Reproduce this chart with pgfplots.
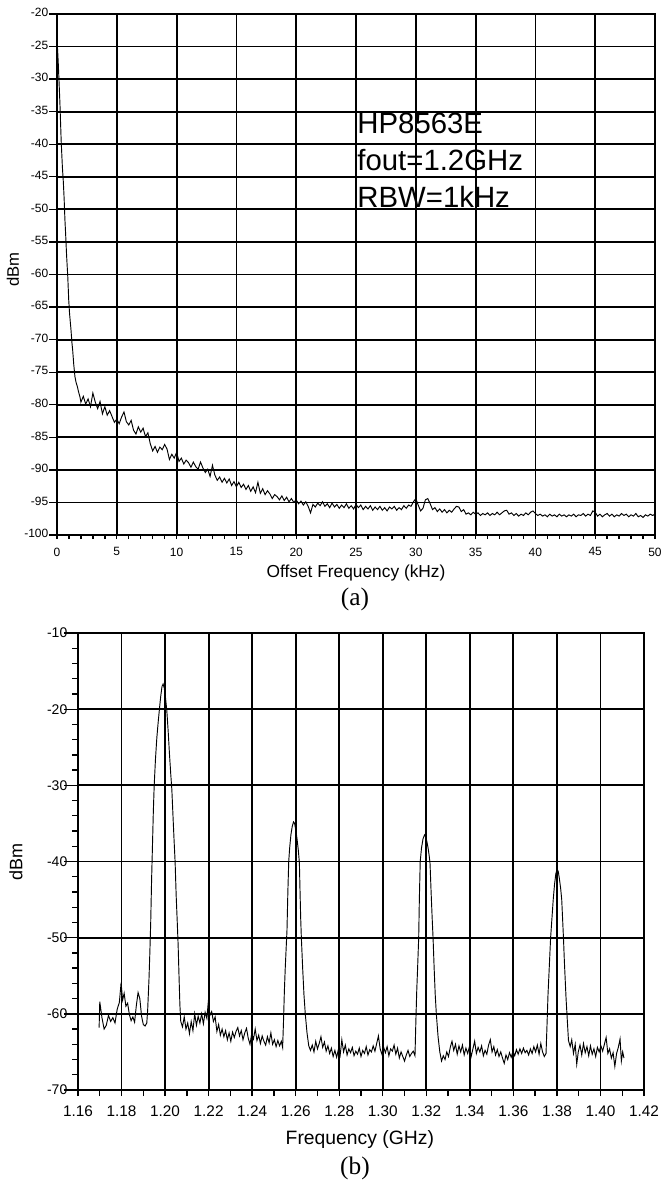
\documentclass[border=0pt]{standalone}
\usepackage{fontspec}
\setmainfont{Liberation Sans}
\newfontfamily\seriffont{Liberation Serif}
\usepackage{pgfplots}
\pgfplotsset{compat=1.18}

% 1 px of the reference = 0.75pt
\pgfplotsset{
  specstyle/.style={
    scale only axis,
    anchor=south west,
    grid=major,
    major grid style={black, line width=1.35pt},
    axis line style={black, line width=1.35pt},
    tick style={black, line width=1pt},
    tick align=outside,
    tick pos=left,
  }
}

\begin{document}
\begin{tikzpicture}
\useasboundingbox (0,0) rectangle (495.75pt,-888pt);

% (a) close-in spectrum
\begin{axis}[
  specstyle,
  at={(42.75pt,-401.25pt)},
  width=448.5pt, height=390.75pt,
  xmin=0, xmax=50, ymin=-100, ymax=-20,
  xtick={0,5,...,50},
  xticklabels={0,5,10,15,20,25,30,35,40,45,50},
  ytick={-100,-95,...,-20},
  yticklabels={-100,-95,-90,-85,-80,-75,-70,-65,-60,-55,-50,-45,-40,-35,-30,-25,-20},
  minor x tick num=4,
  major tick length=3pt, minor tick length=3pt,
  ytick style={/pgfplots/major tick length=6pt},
  ticklabel style={font=\fontsize{9}{10}\selectfont},
  xticklabel style={yshift=-3pt},
  yticklabel style={yshift=1pt},
  xlabel={Offset Frequency (kHz)},
  xlabel style={at={(axis description cs:0.5,-0.073)}, anchor=center, font=\fontsize{13}{15}\selectfont},
  ylabel={dBm},
  ylabel style={at={(axis description cs:-0.0736,0.509)}, anchor=center, font=\fontsize{12.5}{15}\selectfont},
]
\addplot[black, line width=0.7pt] coordinates {
(0.00,-24.0) (0.05,-25.5) (0.10,-27.3) (0.15,-29.5) (0.20,-31.7) (0.25,-34.0) (0.30,-36.8)
(0.35,-39.5) (0.40,-41.5) (0.45,-43.5) (0.53,-45.8) (0.60,-48.5) (0.66,-51.5) (0.72,-53.7)
(0.80,-57.0) (0.90,-60.3) (0.98,-63.9) (1.05,-66.0) (1.17,-68.5) (1.25,-70.5) (1.31,-71.6)
(1.40,-73.8) (1.50,-75.7) (1.60,-76.6) (1.70,-77.2) (1.80,-78.0) (1.92,-78.8)
(2.0,-79.6) (2.2,-78.7) (2.4,-79.9) (2.6,-79.1) (2.8,-80.3) (3.0,-78.2) (3.2,-79.6) (3.4,-80.6)
(3.6,-79.5) (3.8,-81.4) (4.0,-80.3) (4.2,-81.6) (4.4,-80.9) (4.6,-81.8) (4.8,-82.7) (5.0,-82.2)
(5.2,-82.9) (5.4,-81.9) (5.6,-81.1) (5.8,-82.6) (6.0,-83.1) (6.2,-82.4) (6.4,-83.9) (6.6,-84.5)
(6.8,-83.4) (7.0,-84.2) (7.2,-83.6) (7.4,-84.9) (7.6,-84.3) (7.8,-86.0) (8.0,-87.1) (8.2,-86.4)
(8.4,-87.3) (8.6,-86.5) (8.8,-86.9) (9.0,-86.1) (9.2,-86.8) (9.4,-88.4) (9.6,-87.6) (9.8,-88.2)
(10.0,-87.3) (10.2,-88.7) (10.4,-88.2) (10.6,-89.1) (10.8,-88.5) (11.0,-88.9) (11.2,-89.6)
(11.4,-88.8) (11.6,-89.5) (11.8,-89.9) (12.0,-88.8) (12.2,-89.7) (12.4,-90.4) (12.6,-89.9)
(12.8,-91.0) (13.0,-89.3) (13.2,-90.8) (13.4,-91.6) (13.6,-91.1) (13.8,-91.9) (14.0,-91.3)
(14.2,-92.0) (14.4,-91.4) (14.6,-92.4) (14.8,-91.8) (15.0,-92.6) (15.2,-91.9) (15.4,-92.7)
(15.6,-92.2) (15.8,-93.0) (16.0,-92.4) (16.2,-93.3) (16.4,-92.6) (16.6,-93.5) (16.8,-91.9)
(17.0,-93.6) (17.2,-92.9) (17.4,-93.8) (17.6,-93.2) (17.8,-93.7) (18.0,-94.4) (18.2,-93.8)
(18.4,-94.1) (18.6,-94.6) (18.8,-94.0) (19.0,-94.7) (19.2,-94.2) (19.4,-94.9) (19.6,-94.4)
(19.8,-95.0) (20.0,-94.6) (20.2,-95.2) (20.4,-94.8) (20.6,-95.4) (20.8,-94.9) (21.0,-95.6)
(21.2,-96.6) (21.4,-95.3) (21.6,-95.7) (21.8,-95.1) (22.0,-95.5) (22.2,-94.9) (22.4,-95.6)
(22.6,-95.2) (22.8,-95.8) (23.0,-95.1) (23.2,-95.7) (23.4,-95.3) (23.6,-95.9) (23.8,-95.4)
(24.0,-95.8) (24.2,-95.2) (24.4,-95.9) (24.6,-95.5) (24.8,-96.0) (25.0,-95.3) (25.2,-95.8)
(25.4,-95.4) (25.6,-96.1) (25.8,-95.6) (26.0,-96.0) (26.2,-95.5) (26.4,-96.2) (26.6,-95.7)
(26.8,-96.1) (27.0,-95.6) (27.2,-96.2) (27.4,-95.8) (27.6,-96.3) (27.8,-95.7) (28.0,-96.0)
(28.2,-95.6) (28.4,-96.2) (28.6,-95.8) (28.8,-96.1) (29.0,-95.5) (29.2,-95.9) (29.4,-95.4)
(29.6,-95.6) (29.8,-94.9) (30.0,-94.4) (30.2,-95.4) (30.4,-96.3) (30.6,-95.9) (30.8,-94.6)
(31.0,-94.4) (31.2,-95.2) (31.4,-96.1) (31.6,-95.8) (31.8,-96.4) (32.0,-96.0) (32.2,-96.5)
(32.4,-96.1) (32.6,-96.6) (32.8,-96.2) (33.0,-96.5) (33.2,-96.0) (33.4,-95.6) (33.6,-95.7)
(33.8,-96.4) (34.0,-96.1) (34.2,-96.8) (34.4,-96.6) (34.6,-96.9) (34.8,-96.5) (35.0,-96.8)
(35.2,-96.6) (35.4,-97.0) (35.6,-96.7) (35.8,-96.9) (36.0,-96.6) (36.2,-97.0) (36.4,-96.7)
(36.6,-96.9) (36.8,-96.5) (37.0,-96.9) (37.2,-96.6) (37.4,-96.3) (37.6,-96.2) (37.8,-96.8)
(38.0,-96.6) (38.2,-97.0) (38.4,-96.7) (38.6,-97.1) (38.8,-96.8) (39.0,-97.0) (39.2,-96.6)
(39.4,-96.9) (39.6,-96.5) (39.8,-96.3) (40.0,-96.7) (40.2,-97.0) (40.4,-96.8) (40.6,-97.1)
(40.8,-96.9) (41.0,-97.2) (41.2,-96.8) (41.4,-97.1) (41.6,-96.9) (41.8,-97.2) (42.0,-96.8)
(42.2,-97.1) (42.4,-96.9) (42.6,-97.2) (42.8,-96.9) (43.0,-97.1) (43.2,-96.8) (43.4,-97.2)
(43.6,-96.9) (43.8,-97.0) (44.0,-96.7) (44.2,-97.1) (44.4,-96.8) (44.6,-97.0) (44.8,-96.3)
(45.0,-96.5) (45.2,-97.1) (45.4,-96.8) (45.6,-97.2) (45.8,-96.9) (46.0,-96.7) (46.2,-97.1)
(46.4,-96.8) (46.6,-97.2) (46.8,-96.9) (47.0,-97.1) (47.2,-96.7) (47.4,-97.0) (47.6,-96.8)
(47.8,-97.2) (48.0,-96.9) (48.2,-97.1) (48.4,-96.7) (48.6,-97.2) (48.8,-97.0) (49.0,-97.3)
(49.2,-96.9) (49.4,-97.1) (49.6,-96.8) (49.8,-97.0) (50.0,-96.8)
};
\node[anchor=base west, inner sep=0pt, font=\fontsize{22}{26}\selectfont] at (axis cs:25.1,-38.3) {HP8563E};
\node[anchor=base west, inner sep=0pt, font=\fontsize{22}{26}\selectfont] at (axis cs:25.1,-44.0) {fout=1.2GHz};
\node[anchor=base west, inner sep=0pt, font=\fontsize{22}{26}\selectfont] at (axis cs:25.1,-49.65) {RBW=1kHz};
\end{axis}

\node[font=\seriffont\fontsize{19}{22}\selectfont] at (266.25pt,-449.25pt) {(a)};

% (b) output spectrum
\begin{axis}[
  specstyle,
  at={(58.5pt,-817.5pt)},
  width=424.5pt, height=342.75pt,
  xmin=1.16, xmax=1.42, ymin=-70, ymax=-10,
  xtick={1.16,1.18,...,1.42},
  xticklabels={1.16,1.18,1.20,1.22,1.24,1.26,1.28,1.30,1.32,1.34,1.36,1.38,1.40,1.42},
  ytick={-70,-60,...,-10},
  yticklabels={-70,-60,-50,-40,-30,-20,-10},
  minor x tick num=1, minor y tick num=4,
  major tick length=4.5pt, minor tick length=4.5pt,
  ytick style={/pgfplots/major tick length=10.5pt},
  ticklabel style={font=\fontsize{10.5}{12}\selectfont},
  xticklabel style={yshift=-4pt, font=\fontsize{11.5}{13}\selectfont},
  xlabel={Frequency (GHz)},
  xlabel style={at={(axis description cs:0.498,-0.109)}, anchor=center, font=\fontsize{14.5}{17}\selectfont},
  ylabel={dBm},
  ylabel style={at={(axis description cs:-0.1095,0.499)}, anchor=center, font=\fontsize{13.5}{16}\selectfont},
]
\addplot[black, line width=0.7pt] coordinates {
(1.1697,-61.8) (1.1700,-58.4) (1.1710,-60.5) (1.1720,-62.0) (1.1730,-61.5) (1.1740,-60.2)
(1.1750,-61.0) (1.1760,-60.5) (1.1770,-61.2) (1.1780,-59.4) (1.1790,-58.5) (1.1798,-55.9)
(1.1805,-58.2) (1.1812,-57.3) (1.1820,-59.0) (1.1828,-58.6) (1.1836,-60.1) (1.1844,-60.9)
(1.1852,-60.4) (1.1860,-61.1) (1.1868,-58.9) (1.1876,-57.2) (1.1884,-58.0) (1.1892,-60.3)
(1.1900,-61.4) (1.1908,-61.6) (1.1916,-61.2)
(1.1920,-59.5) (1.1926,-55.5) (1.1930,-52.0) (1.1934,-48.0) (1.1938,-42.5) (1.1942,-38.0)
(1.1946,-33.5) (1.1950,-30.0) (1.1956,-26.5) (1.1962,-23.8) (1.1968,-21.8) (1.1974,-20.0)
(1.1980,-18.3) (1.1986,-17.0) (1.1991,-16.7) (1.1996,-17.2) (1.2002,-18.5) (1.2008,-20.2)
(1.2014,-22.8) (1.2020,-25.8) (1.2026,-28.5) (1.2031,-30.5) (1.2036,-33.8) (1.2041,-37.0)
(1.2046,-40.0) (1.2051,-44.5) (1.2056,-48.0) (1.2060,-51.0) (1.2064,-55.0) (1.2068,-58.8)
(1.2072,-61.0) (1.2080,-61.7)
(1.2088,-60.4) (1.2096,-62.0) (1.2104,-61.2) (1.2112,-62.6) (1.2120,-61.0) (1.2128,-62.2)
(1.2136,-60.0) (1.2144,-61.5) (1.2152,-60.3) (1.2160,-61.2) (1.2168,-60.0) (1.2176,-61.3)
(1.2184,-59.8) (1.2192,-60.6) (1.2198,-58.6) (1.2206,-60.2) (1.2214,-59.7) (1.2222,-61.0)
(1.2230,-60.4) (1.2238,-62.3) (1.2246,-61.4) (1.2254,-62.8) (1.2262,-62.0) (1.2270,-63.0)
(1.2278,-62.2) (1.2286,-63.4) (1.2294,-62.5) (1.2302,-63.6) (1.2310,-62.4) (1.2318,-63.1)
(1.2326,-62.3) (1.2334,-61.8) (1.2342,-62.9) (1.2350,-62.2) (1.2358,-63.4) (1.2366,-62.5)
(1.2374,-61.9) (1.2382,-63.2) (1.2390,-64.0) (1.2398,-62.6) (1.2406,-63.3) (1.2414,-62.0)
(1.2422,-63.5) (1.2430,-62.8) (1.2438,-63.9) (1.2446,-62.9) (1.2454,-63.6) (1.2462,-64.1)
(1.2470,-63.0) (1.2478,-63.8) (1.2486,-62.5) (1.2494,-64.0) (1.2502,-63.4) (1.2510,-64.3)
(1.2518,-63.5) (1.2526,-64.2) (1.2534,-63.6) (1.2540,-64.4)
(1.2544,-61.0) (1.2548,-57.0) (1.2552,-54.0) (1.2556,-51.5) (1.2560,-49.0) (1.2564,-44.0)
(1.2568,-40.0) (1.2572,-38.3) (1.2578,-36.5) (1.2584,-35.4) (1.2590,-34.8) (1.2595,-35.0)
(1.2600,-35.8) (1.2606,-37.0) (1.2612,-38.5) (1.2617,-40.2) (1.2620,-44.0) (1.2623,-47.5)
(1.2626,-50.0) (1.2632,-54.0) (1.2638,-57.5) (1.2644,-60.0) (1.2652,-62.5) (1.2660,-64.2)
(1.2668,-64.8) (1.2676,-64.1) (1.2684,-65.0) (1.2692,-63.6) (1.2700,-64.6) (1.2708,-63.9)
(1.2716,-63.0) (1.2724,-64.4) (1.2732,-63.7) (1.2740,-64.9) (1.2748,-64.2) (1.2756,-65.2)
(1.2764,-64.5) (1.2772,-65.6) (1.2780,-64.8) (1.2788,-65.7) (1.2796,-64.7) (1.2804,-65.5)
(1.2812,-63.4) (1.2820,-65.0) (1.2828,-64.1) (1.2836,-65.4) (1.2844,-64.6) (1.2852,-65.1)
(1.2860,-64.4) (1.2868,-65.5) (1.2876,-64.9) (1.2884,-65.3) (1.2892,-64.5) (1.2900,-65.6)
(1.2908,-64.8) (1.2916,-65.2) (1.2924,-64.3) (1.2932,-65.4) (1.2940,-64.7) (1.2948,-65.0)
(1.2956,-64.2) (1.2964,-64.9) (1.2972,-63.9) (1.2980,-62.9) (1.2988,-64.6) (1.2996,-65.3)
(1.3004,-64.4) (1.3012,-65.1) (1.3020,-64.3) (1.3028,-65.5) (1.3036,-64.6) (1.3044,-64.9)
(1.3052,-64.1) (1.3060,-65.3) (1.3068,-64.5) (1.3076,-65.8) (1.3084,-65.0) (1.3092,-65.6)
(1.3100,-66.2) (1.3108,-65.4) (1.3116,-64.8) (1.3124,-65.6) (1.3132,-65.2) (1.3140,-64.9)
(1.3148,-65.5)
(1.3152,-61.0) (1.3156,-57.0) (1.3160,-54.0) (1.3165,-50.0) (1.3168,-45.0) (1.3172,-40.0)
(1.3178,-38.2) (1.3185,-37.0) (1.3192,-36.5) (1.3197,-36.7) (1.3202,-37.3) (1.3208,-38.2)
(1.3213,-39.2) (1.3217,-40.2) (1.3222,-44.0) (1.3227,-47.5) (1.3231,-50.0) (1.3236,-54.0)
(1.3241,-57.5) (1.3246,-60.0) (1.3254,-63.0) (1.3262,-65.0) (1.3270,-66.2)
(1.3278,-65.5) (1.3286,-66.0) (1.3294,-65.0) (1.3302,-65.6) (1.3310,-64.4) (1.3318,-63.6)
(1.3326,-64.8) (1.3334,-64.0) (1.3342,-65.3) (1.3350,-64.2) (1.3358,-65.0) (1.3366,-64.1)
(1.3374,-65.4) (1.3382,-64.5) (1.3390,-65.2) (1.3398,-64.3) (1.3406,-65.6) (1.3414,-64.6)
(1.3422,-63.6) (1.3430,-65.2) (1.3438,-64.4) (1.3446,-65.0) (1.3454,-64.2) (1.3462,-65.5)
(1.3470,-64.8) (1.3478,-65.3) (1.3486,-64.1) (1.3494,-63.4) (1.3502,-65.0) (1.3510,-64.3)
(1.3518,-65.4) (1.3526,-64.7) (1.3534,-65.6) (1.3542,-65.0) (1.3550,-65.8) (1.3558,-66.5)
(1.3566,-65.4) (1.3574,-66.0) (1.3582,-65.1) (1.3590,-65.7) (1.3598,-64.9) (1.3606,-65.5)
(1.3614,-64.7) (1.3622,-65.3) (1.3630,-64.6) (1.3638,-65.2) (1.3646,-64.5) (1.3654,-65.1)
(1.3662,-64.8) (1.3670,-65.4) (1.3678,-64.6) (1.3686,-65.2) (1.3694,-64.3) (1.3702,-65.0)
(1.3710,-64.1) (1.3718,-65.3) (1.3726,-63.9) (1.3734,-65.0) (1.3742,-65.6) (1.3750,-65.2)
(1.3755,-61.0) (1.3759,-57.5) (1.3763,-55.0) (1.3767,-52.5) (1.3771,-50.0) (1.3777,-47.5)
(1.3783,-45.0) (1.3789,-43.0) (1.3795,-41.6) (1.3801,-41.0) (1.3806,-41.3) (1.3811,-42.2)
(1.3817,-43.5) (1.3822,-45.0) (1.3826,-47.5) (1.3830,-50.0) (1.3834,-53.0) (1.3838,-55.5)
(1.3842,-58.0) (1.3846,-60.0) (1.3853,-63.5) (1.3861,-64.3) (1.3868,-63.4) (1.3876,-65.2)
(1.3884,-64.0) (1.3891,-66.6) (1.3898,-65.0) (1.3906,-64.1) (1.3914,-65.4) (1.3922,-63.9)
(1.3930,-65.1) (1.3938,-64.3) (1.3946,-65.5) (1.3954,-64.2) (1.3962,-65.3) (1.3970,-64.6)
(1.3978,-65.6) (1.3986,-64.4) (1.3994,-65.0) (1.4002,-64.2) (1.4010,-64.9) (1.4018,-64.0)
(1.4026,-63.1) (1.4034,-65.2) (1.4042,-64.6) (1.4050,-65.8) (1.4058,-65.1) (1.4066,-66.9)
(1.4074,-65.2) (1.4082,-64.4) (1.4090,-63.3) (1.4096,-66.2) (1.4102,-65.0) (1.4108,-65.8)
};
\end{axis}

\node[font=\seriffont\fontsize{19}{22}\selectfont] at (266.25pt,-876pt) {(b)};
\end{tikzpicture}
\end{document}
